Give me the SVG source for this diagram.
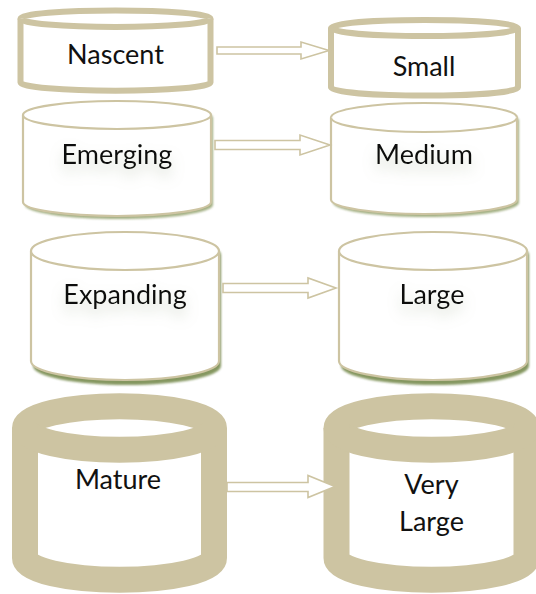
<svg xmlns="http://www.w3.org/2000/svg" width="536" height="594" viewBox="0 0 536 594">
<defs>
<style>
.cyl{fill:#ffffff;stroke:#cdc4a2}
.thin{stroke-width:2.2}
.med{stroke-width:6}
.thick{stroke-width:26}
.shadow{fill:#93a26d;opacity:0.85}
.shadow2{fill:#7f9258;opacity:0.95}
.lbl{font-family:Lato,"Open Sans","Liberation Sans",sans-serif;font-size:27px;fill:#111111;text-anchor:middle}
.arrow{fill:#ffffff;stroke:#cdc4a2;stroke-width:1.6;stroke-linejoin:miter}
</style>
<filter id="blur1" x="-10%" y="-10%" width="120%" height="130%"><feGaussianBlur stdDeviation="1.2"/></filter>
<filter id="glow" x="-30%" y="-60%" width="160%" height="260%">
<feGaussianBlur in="SourceAlpha" stdDeviation="7"/>
<feOffset dy="8" result="b"/>
<feFlood flood-color="#aab59a" flood-opacity="0.5"/>
<feComposite in2="b" operator="in" result="s"/>
<feMerge><feMergeNode in="s"/><feMergeNode in="SourceGraphic"/></feMerge>
</filter>
</defs>
<rect width="536" height="594" fill="#ffffff"/>

<g id="nascent">
<path class="cyl med" d="M20.5 18.7 L20.5 82.4 A95 8.3 0 0 0 210.5 82.4 L210.5 18.7 A95 8.3 0 0 0 20.5 18.7 Z"/>
<path class="cyl med" d="M20.5 18.7 A95 8.3 0 0 0 210.5 18.7" fill="none"/>
<text class="lbl" x="115.5" y="64">Nascent</text>
</g>

<g id="small">
<path class="cyl med" d="M331 28 L331 87.5 A93.5 8 0 0 0 518 87.5 L518 28 A93.5 8 0 0 0 331 28 Z"/>
<path class="cyl med" d="M331 28 A93.5 8 0 0 0 518 28" fill="none"/>
<text class="lbl" x="424" y="76">Small</text>
</g>

<g id="emerging">
<path class="shadow" filter="url(#blur1)" d="M25 118 L25 205 A94 14 0 0 0 213 205 L213 118 A94 14 0 0 0 25 118 Z"/>
<path class="cyl thin" d="M23 115 L23 202 A94 14 0 0 0 211 202 L211 115 A94 14 0 0 0 23 115 Z"/>
<path class="cyl thin" d="M23 115 A94 14 0 0 0 211 115" fill="none"/>
<text class="lbl" x="117" y="164" filter="url(#glow)">Emerging</text>
</g>

<g id="medium">
<path class="shadow" filter="url(#blur1)" d="M333 120.5 L333 202.5 A93 14.5 0 0 0 519 202.5 L519 120.5 A93 14.5 0 0 0 333 120.5 Z"/>
<path class="cyl thin" d="M331 117.5 L331 199.5 A93 14.5 0 0 0 517 199.5 L517 117.5 A93 14.5 0 0 0 331 117.5 Z"/>
<path class="cyl thin" d="M331 117.5 A93 14.5 0 0 0 517 117.5" fill="none"/>
<text class="lbl" x="424" y="164" filter="url(#glow)">Medium</text>
</g>

<g id="expanding">
<path class="shadow2" filter="url(#blur1)" d="M33 255 L33 366 A94 19 0 0 0 221 366 L221 255 A94 19 0 0 0 33 255 Z"/>
<path class="cyl thin" d="M31 251 L31 361 A94 19 0 0 0 219 361 L219 251 A94 19 0 0 0 31 251 Z"/>
<path class="cyl thin" d="M31 251 A94 19 0 0 0 219 251" fill="none"/>
<text class="lbl" x="125" y="304" filter="url(#glow)">Expanding</text>
</g>

<g id="large">
<path class="shadow2" filter="url(#blur1)" d="M341 255 L341 366 A94 19 0 0 0 529 366 L529 255 A94 19 0 0 0 341 255 Z"/>
<path class="cyl thin" d="M339 251 L339 361 A94 19 0 0 0 527 361 L527 251 A94 19 0 0 0 339 251 Z"/>
<path class="cyl thin" d="M339 251 A94 19 0 0 0 527 251" fill="none"/>
<text class="lbl" x="432" y="304" filter="url(#glow)">Large</text>
</g>

<g id="mature">
<path class="cyl thick" d="M25 428 L25 558 A94.5 21.75 0 0 0 214 558 L214 428 A94.5 21.75 0 0 0 25 428 Z"/>
<path class="cyl thick" d="M25 428 A94.5 21.75 0 0 0 214 428" fill="none"/>
<text class="lbl" x="118" y="489">Mature</text>
</g>

<g id="very-large">
<path class="cyl thick" d="M336.5 428 L336.5 558 A95 21.75 0 0 0 526.5 558 L526.5 428 A95 21.75 0 0 0 336.5 428 Z"/>
<path class="cyl thick" d="M336.5 428 A95 21.75 0 0 0 526.5 428" fill="none"/>
<text class="lbl" x="431.5" y="494">Very</text>
<text class="lbl" x="431.5" y="531">Large</text>
</g>

<g id="connectors">
<path class="arrow" d="M217 47 L301 47 L301 42 L329 50.5 L301 59 L301 54 L217 54 Z"/>
<path class="arrow" d="M215 140.5 L300 140.5 L300 135 L330 145 L300 155 L300 149.5 L215 149.5 Z"/>
<path class="arrow" d="M223 283.5 L308 283.5 L308 278 L336 288 L308 298 L308 292.5 L223 292.5 Z"/>
<path class="arrow" d="M227 482.5 L308 482.5 L308 475.5 L335 486.5 L308 497.5 L308 491.5 L227 491.5 Z"/>
</g>
</svg>
